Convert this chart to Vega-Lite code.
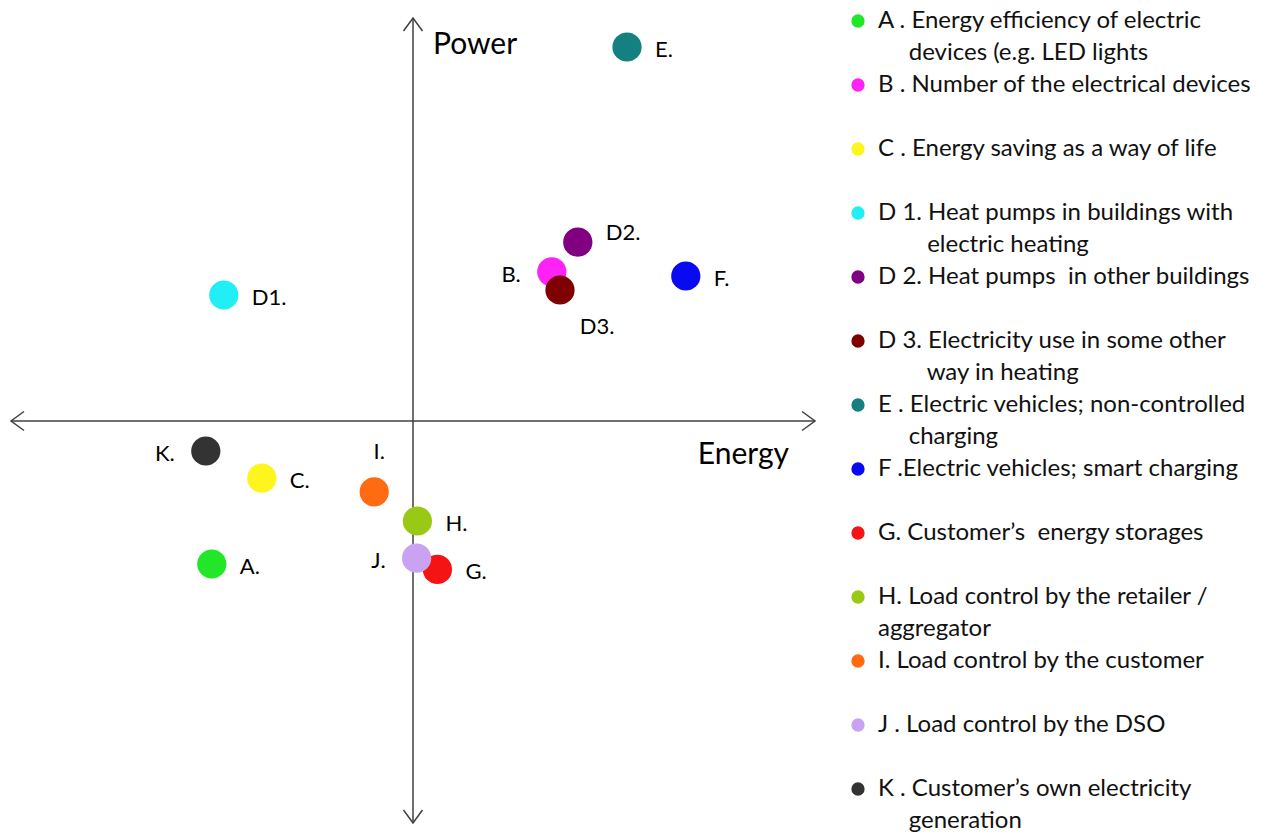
{
  "$schema": "https://vega.github.io/schema/vega-lite/v6.json",
  "padding": 0,
  "autosize": {"type": "pad"},
  "bounds": "flush",
  "spacing": 34,
  "background": "white",
  "config": {"view": {"stroke": null}, "font": "Lato"},
  "datasets": {
    "points": [
      {"key": "A", "label": "A.", "energy": -5.03, "power": -3.575, "side": "right"},
      {"key": "B", "label": "B.", "energy": 3.47, "power": 3.73, "side": "left"},
      {"key": "C", "label": "C.", "energy": -3.78, "power": -1.43, "side": "right"},
      {"key": "D1", "label": "D1.", "energy": -4.73, "power": 3.15, "side": "right"},
      {"key": "D2", "label": "D2.", "energy": 4.12, "power": 4.47, "side": "upper right"},
      {"key": "D3", "label": "D3.", "energy": 3.675, "power": 3.275, "side": "lower right"},
      {"key": "E", "label": "E.", "energy": 5.35, "power": 9.35, "side": "right"},
      {"key": "F", "label": "F.", "energy": 6.82, "power": 3.625, "side": "right"},
      {"key": "G", "label": "G.", "energy": 0.61, "power": -3.71, "side": "right"},
      {"key": "H", "label": "H.", "energy": 0.11, "power": -2.5, "side": "right"},
      {"key": "I", "label": "I.", "energy": -0.97, "power": -1.77, "side": "above"},
      {"key": "J", "label": "J.", "energy": 0.09, "power": -3.43, "side": "left"},
      {"key": "K", "label": "K.", "energy": -5.18, "power": -0.75, "side": "left"}
    ],
    "axes": [
      {"axis": "Energy", "x1": -10.05, "x2": 10.05, "y1": 0, "y2": 0},
      {"axis": "Power", "x1": 0, "x2": 0, "y1": -10.05, "y2": 10.075}
    ],
    "tips": [
      {"energy": 10.05, "power": 0, "dir": "right"},
      {"energy": -10.05, "power": 0, "dir": "left"},
      {"energy": 0, "power": 10.075, "dir": "up"},
      {"energy": 0, "power": -10.05, "dir": "down"}
    ],
    "legend": [
      {"slot": 0, "key": "A", "text": "A . Energy efficiency of electric"},
      {"slot": 1, "key": null, "text": "\u200b\u00a0\u00a0\u00a0\u00a0\u00a0devices (e.g. LED lights"},
      {"slot": 2, "key": "B", "text": "B . Number of the electrical devices"},
      {"slot": 4, "key": "C", "text": "C . Energy saving as a way of life"},
      {"slot": 6, "key": "D1", "text": "D 1. Heat pumps in buildings with"},
      {"slot": 7, "key": null, "text": "\u200b\u00a0\u00a0\u00a0\u00a0\u00a0\u00a0\u00a0\u00a0electric heating"},
      {"slot": 8, "key": "D2", "text": "D 2. Heat pumps\u00a0 in other buildings"},
      {"slot": 10, "key": "D3", "text": "D 3. Electricity use in some other"},
      {"slot": 11, "key": null, "text": "\u200b\u00a0\u00a0\u00a0\u00a0\u00a0\u00a0\u00a0\u00a0way in heating"},
      {"slot": 12, "key": "E", "text": "E . Electric vehicles; non-controlled"},
      {"slot": 13, "key": null, "text": "\u200b\u00a0\u00a0\u00a0\u00a0\u00a0charging"},
      {"slot": 14, "key": "F", "text": "F .Electric vehicles; smart charging"},
      {"slot": 16, "key": "G", "text": "G. Customer\u2019s\u00a0 energy storages"},
      {"slot": 18, "key": "H", "text": "H. Load control by the retailer /"},
      {"slot": 19, "key": null, "text": "aggregator"},
      {"slot": 20, "key": "I", "text": "I. Load control by the customer"},
      {"slot": 22, "key": "J", "text": "J . Load control by the DSO"},
      {"slot": 24, "key": "K", "text": "K . Customer\u2019s own electricity"},
      {"slot": 25, "key": null, "text": "\u200b\u00a0\u00a0\u00a0\u00a0\u00a0generation"}
    ]
  },
  "hconcat": [
    {
      "width": 824,
      "height": 834,
      "layer": [
        {
          "data": {"name": "axes"},
          "mark": {"type": "rule", "color": "#404040", "strokeWidth": 1.5},
          "encoding": {
            "x": {"field": "x1", "type": "quantitative", "axis": null, "scale": {"domain": [-10.325, 10.275], "nice": false, "zero": false}},
            "x2": {"field": "x2"},
            "y": {"field": "y1", "type": "quantitative", "axis": null, "scale": {"domain": [-10.325, 10.525], "nice": false, "zero": false}},
            "y2": {"field": "y2"}
          }
        },
        {
          "data": {"name": "tips"},
          "mark": {"type": "point", "filled": false, "size": 676, "strokeWidth": 1.5, "color": "#404040", "opacity": 1},
          "encoding": {
            "x": {"field": "energy", "type": "quantitative", "axis": null},
            "y": {"field": "power", "type": "quantitative", "axis": null},
            "shape": {
              "field": "dir", "type": "nominal", "legend": null,
              "scale": {
                "domain": ["right", "left", "up", "down"],
                "range": ["M-1,-0.73L0,0L-1,0.73", "M1,-0.73L0,0L1,0.73", "M-0.73,1L0,0L0.73,1", "M-0.73,-1L0,0L0.73,-1"]
              }
            }
          }
        },
        {
          "data": {"name": "axes"},
          "transform": [{"filter": "datum.axis == 'Power'"}],
          "mark": {"type": "text", "align": "left", "baseline": "middle", "dx": 20, "dy": 27, "fontSize": 30, "color": "#000000"},
          "encoding": {
            "x": {"field": "x2", "type": "quantitative", "axis": null},
            "y": {"field": "y2", "type": "quantitative", "axis": null},
            "text": {"field": "axis"}
          }
        },
        {
          "data": {"name": "axes"},
          "transform": [{"filter": "datum.axis == 'Energy'"}],
          "mark": {"type": "text", "align": "right", "baseline": "middle", "dx": -26, "dy": 34, "fontSize": 30, "color": "#000000"},
          "encoding": {
            "x": {"field": "x2", "type": "quantitative", "axis": null},
            "y": {"field": "y2", "type": "quantitative", "axis": null},
            "text": {"field": "axis"}
          }
        },
        {
          "data": {"name": "points"},
          "mark": {"type": "circle", "size": 855, "opacity": 1},
          "encoding": {
            "x": {"field": "energy", "type": "quantitative", "axis": null},
            "y": {"field": "power", "type": "quantitative", "axis": null},
            "color": {
              "field": "key", "type": "nominal", "legend": null,
              "scale": {
                "domain": ["A", "B", "C", "D1", "D2", "D3", "E", "F", "G", "H", "I", "J", "K"],
                "range": ["#22e628", "#ff22f4", "#fff51e", "#22eef6", "#800080", "#7f0000", "#148080", "#0a0af2", "#f51414", "#99c915", "#ff6a12", "#c9a2f2", "#333333"]
              }
            }
          }
        },
        {
          "data": {"name": "points"},
          "transform": [{"filter": "datum.side == 'right'"}],
          "mark": {"type": "text", "align": "left", "baseline": "middle", "dx": 28, "dy": 3, "fontSize": 22, "color": "#000000"},
          "encoding": {
            "x": {"field": "energy", "type": "quantitative", "axis": null},
            "y": {"field": "power", "type": "quantitative", "axis": null},
            "text": {"field": "label"}
          }
        },
        {
          "data": {"name": "points"},
          "transform": [{"filter": "datum.side == 'upper right'"}],
          "mark": {"type": "text", "align": "left", "baseline": "middle", "dx": 28, "dy": -9, "fontSize": 22, "color": "#000000"},
          "encoding": {
            "x": {"field": "energy", "type": "quantitative", "axis": null},
            "y": {"field": "power", "type": "quantitative", "axis": null},
            "text": {"field": "label"}
          }
        },
        {
          "data": {"name": "points"},
          "transform": [{"filter": "datum.side == 'lower right'"}],
          "mark": {"type": "text", "align": "center", "baseline": "middle", "dx": 37, "dy": 37, "fontSize": 22, "color": "#000000"},
          "encoding": {
            "x": {"field": "energy", "type": "quantitative", "axis": null},
            "y": {"field": "power", "type": "quantitative", "axis": null},
            "text": {"field": "label"}
          }
        },
        {
          "data": {"name": "points"},
          "transform": [{"filter": "datum.side == 'left'"}],
          "mark": {"type": "text", "align": "right", "baseline": "middle", "dx": -31, "dy": 3, "fontSize": 22, "color": "#000000"},
          "encoding": {
            "x": {"field": "energy", "type": "quantitative", "axis": null},
            "y": {"field": "power", "type": "quantitative", "axis": null},
            "text": {"field": "label"}
          }
        },
        {
          "data": {"name": "points"},
          "transform": [{"filter": "datum.side == 'above'"}],
          "mark": {"type": "text", "align": "center", "baseline": "middle", "dx": 5, "dy": -40, "fontSize": 22, "color": "#000000"},
          "encoding": {
            "x": {"field": "energy", "type": "quantitative", "axis": null},
            "y": {"field": "power", "type": "quantitative", "axis": null},
            "text": {"field": "label"}
          }
        }
      ]
    },
    {
      "width": 416,
      "height": 834,
      "data": {"name": "legend"},
      "layer": [
        {
          "transform": [{"filter": "datum.key != null"}],
          "mark": {"type": "circle", "size": 177, "opacity": 1},
          "encoding": {
            "x": {"datum": 0, "type": "quantitative", "axis": null, "scale": {"domain": [0, 1], "nice": false, "zero": false}},
            "y": {"field": "slot", "type": "quantitative", "axis": null, "scale": {"domain": [-0.65625, 25.40625], "reverse": true, "nice": false, "zero": false}},
            "color": {
              "field": "key", "type": "nominal", "legend": null,
              "scale": {
                "domain": ["A", "B", "C", "D1", "D2", "D3", "E", "F", "G", "H", "I", "J", "K"],
                "range": ["#22e628", "#ff22f4", "#fff51e", "#22eef6", "#800080", "#7f0000", "#148080", "#0a0af2", "#f51414", "#99c915", "#ff6a12", "#c9a2f2", "#333333"]
              }
            }
          }
        },
        {
          "mark": {"type": "text", "align": "left", "baseline": "middle", "dx": 20, "fontSize": 24, "color": "#111111"},
          "encoding": {
            "x": {"datum": 0, "type": "quantitative", "axis": null},
            "y": {"field": "slot", "type": "quantitative", "axis": null},
            "text": {"field": "text"}
          }
        }
      ]
    }
  ]
}
